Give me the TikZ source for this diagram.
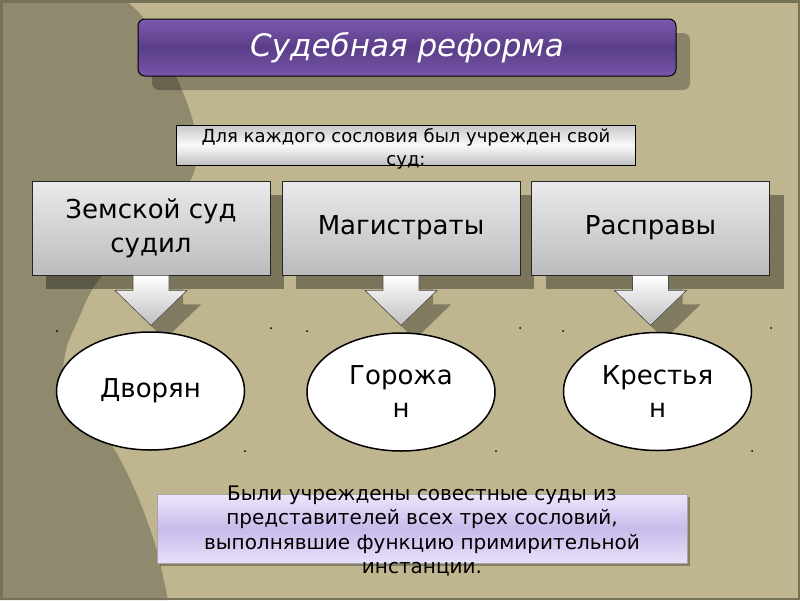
\documentclass[tikz,border=0pt]{standalone}
\usepackage{fontspec}
\setmainfont{DejaVu Sans}
\usetikzlibrary{shapes.geometric,shadows}
\definecolor{bgtan}{RGB}{191,182,143}
\definecolor{bgdark}{RGB}{143,138,110}
\definecolor{framec}{RGB}{118,114,88}
\definecolor{ptop}{RGB}{124,90,174}
\definecolor{pmid}{RGB}{90,62,136}
\definecolor{pbot}{RGB}{120,86,170}
\definecolor{gtop}{RGB}{234,234,236}
\definecolor{gbot}{RGB}{188,188,190}
\definecolor{stop}{RGB}{200,200,200}
\definecolor{smid}{RGB}{250,250,250}
\definecolor{sbot}{RGB}{192,192,192}
\definecolor{ltop}{RGB}{238,230,252}
\definecolor{lmid}{RGB}{200,186,234}
\definecolor{lbot}{RGB}{232,224,250}
\begin{document}
\begin{tikzpicture}[x=1pt,y=-1pt,
  shadowfx/.style={drop shadow={shadow xshift=14pt,shadow yshift=-14pt,opacity=0.36,fill=black}},
  titleshadow/.style={drop shadow={shadow xshift=14pt,shadow yshift=-14pt,opacity=0.28,fill=black}},
  titlebox/.style={draw=black,line width=1pt,rounded corners=7pt,top color=ptop,bottom color=pbot,middle color=pmid,
    minimum width=538pt,minimum height=57pt,inner sep=0pt,text=white,font=\fontsize{31}{37}\selectfont\itshape},
  subbox/.style={draw=black,line width=0.8pt,top color=stop,bottom color=sbot,middle color=smid,
    minimum width=459pt,minimum height=40pt,inner sep=0pt},
  courtbox/.style={draw=black!85,line width=0.8pt,top color=gtop,bottom color=gbot,
    minimum width=238pt,minimum height=94pt,inner sep=0pt,align=center,font=\fontsize{26}{34}\selectfont},
  ovalnode/.style={ellipse,draw=black,line width=1.5pt,fill=white,minimum width=188pt,minimum height=118pt,
    inner sep=0pt,align=center,font=\fontsize{26}{33}\selectfont},
  lavbox/.style={draw=gray!70,line width=0.8pt,top color=ltop,bottom color=lbot,middle color=lmid,
    minimum width=530pt,minimum height=69pt,inner sep=0pt,
    drop shadow={shadow xshift=3pt,shadow yshift=-3pt,opacity=0.3,fill=black}},
  plaintext/.style={inner sep=0pt,align=center},
  arrowfill/.style={draw=gray!60!black,line width=0.6pt,top color=white,bottom color=gray!50},
  arrowshadow/.style={fill=black,opacity=0.32},
  handle/.style={fill=black}
]
\useasboundingbox (0,0) rectangle (800,600);
% background
\fill[bgtan] (0,0) rectangle (800,600);
\fill[bgdark] (0,0) -- plot[smooth,tension=0.6] coordinates {(125,0) (145,20) (168,60) (186,100) (196,135) (196,165) (182,195) (150,232) (112,265) (92,290) (78,320) (66,350) (64,385) (82,415) (108,440) (128,475) (145,515) (158,555) (168,600)} -- (0,600) -- cycle;
\draw[framec,line width=2.5pt] (1.25,1.25) rectangle (798.75,598.75);

% title
\node[titlebox,titleshadow] (title) at (407,47.5) {Судебная реформа};

% subtitle
\node[subbox] (sub) at (405.5,145) {};
\node[plaintext,font=\fontsize{18}{23}\selectfont] (subtext) at (406,148.5) {Для каждого сословия был учрежден свой\\суд:};

% court boxes
\node[courtbox,shadowfx] (b1) at (151,228) {Земской суд\\судил};
\node[courtbox,shadowfx] (b2) at (401,228) {Магистраты};
\node[courtbox,shadowfx] (b3) at (650.5,228) {Расправы};

% block arrows
\foreach \b in {b1,b2,b3}{
  \path (\b.south) coordinate (\b top);
  \fill[arrowshadow] ([xshift=-4pt,yshift=-14pt]\b top) -- ++(36,0) -- ++(0,15) -- ++(18,0) -- ++(-36,35) -- ++(-36,-35) -- ++(18,0) -- cycle;
  \path[arrowfill] ([xshift=-18pt]\b top) -- ++(36,0) -- ++(0,15) -- ++(18,0) -- ++(-36,35) -- ++(-36,-35) -- ++(18,0) -- cycle;
}

% ellipses
\node[ovalnode] (e1) at (150.5,391) {Дворян};
\node[ovalnode] (e2) at (401,392) {Горожа\\н};
\node[ovalnode] (e3) at (657.5,391.5) {Крестья\\н};

% frame handles
\foreach \p in {(57,331),(271,328),(307,331),(520,328),(563,331),(771,328),(245,451),(496,451),(752,451)}
  \fill[handle] \p circle (1pt);

% bottom note
\node[lavbox] (note) at (422,528.5) {};
\node[plaintext,font=\fontsize{20}{24.5}\selectfont] (notetext) at (422,531) {Были учреждены совестные суды из\\представителей всех трех сословий,\\выполнявшие функцию примирительной\\инстанции.};
\end{tikzpicture}
\end{document}
